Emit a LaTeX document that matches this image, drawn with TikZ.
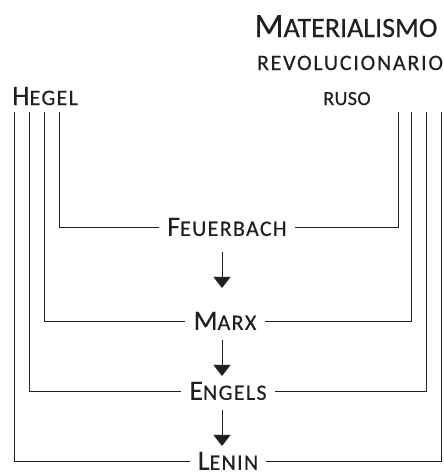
\documentclass[tikz,border=0pt]{standalone}
\usepackage{fontspec}
\setmainfont{Carlito}[LetterSpace=6, FakeBold=0.4]
\usetikzlibrary{arrows.meta}

% hand made small caps: first letter, then the rest as smaller capitals
\newcommand\kap[2]{{\fontsize{28}{30}\selectfont #1}{\fontsize{22}{24}\selectfont\MakeUppercase{#2}}}
\newcommand\kapsmall[2]{{\fontsize{#1}{24}\selectfont\MakeUppercase{#2}}}
\definecolor{ink}{gray}{0.12}

\tikzset{
  head/.style={inner sep=0pt, anchor=base, text=ink},
  thinker/.style={inner xsep=8pt, inner ysep=0pt, text height=17.7pt, text depth=0pt, text=ink},
  link/.style={draw=ink, line width=1pt},
  follows/.style={draw=ink, line width=1pt, -{Triangle[width=17pt,length=11pt]}}
}

\begin{document}
\begin{tikzpicture}[x=1pt, y=-1pt]
\useasboundingbox (0,0) rectangle (444,472);

%\draw[step=20, color=gray!30] (0,0) grid (444,472);

\node[head, font=\addfontfeature{LetterSpace=0}] (mat) at (346,37) {{\fontsize{34}{40}\selectfont M}{\fontsize{28}{30}\selectfont ATERIALISMO}};
\node[head, font=\addfontfeature{LetterSpace=8}] (rev) at (350,70) {\kapsmall{22}{revolucionario}};
\node[head, font=\addfontfeature{LetterSpace=2}] (ruso) at (347,105) {\kapsmall{20}{ruso}};
\node[head, anchor=base west] (hegel) at (12,105) {\kap{H}{egel}};

\node[thinker] (feuer) at (227,227) {\kap{F}{euerbach}};
\node[thinker] (marx) at (225,321) {\kap{M}{arx}};
\node[thinker] (engels) at (228,391) {\kap{E}{ngels}};
\node[thinker] (lenin) at (228,461) {\kap{L}{enin}};

% tops of the lines under Hegel and under the Russian side
\coordinate (h1) at (14,112);
\coordinate (h2) at (29,112);
\coordinate (h3) at (44,112);
\coordinate (h4) at (59,112);
\coordinate (r1) at (441,112);
\coordinate (r2) at (426,112);
\coordinate (r3) at (411,112);
\coordinate (r4) at (398,112);

\foreach \i/\n in {1/lenin, 2/engels, 3/marx, 4/feuer}
{
  \draw[link] (h\i) |- (\n.west);
  \draw[link] (r\i) |- (\n.east);
}

\draw[follows, shorten <=16pt, shorten >=24pt] ([xshift=-5pt]feuer.south) -- ([xshift=-3pt]marx.north);
\draw[follows, shorten <=10pt, shorten >=6pt] ([xshift=-3pt]marx.south) -- ([xshift=-6pt]engels.north);
\draw[follows, shorten <=10pt, shorten >=6pt] ([xshift=-6pt]engels.south) -- ([xshift=-6pt]lenin.north);

\end{tikzpicture}
\end{document}
